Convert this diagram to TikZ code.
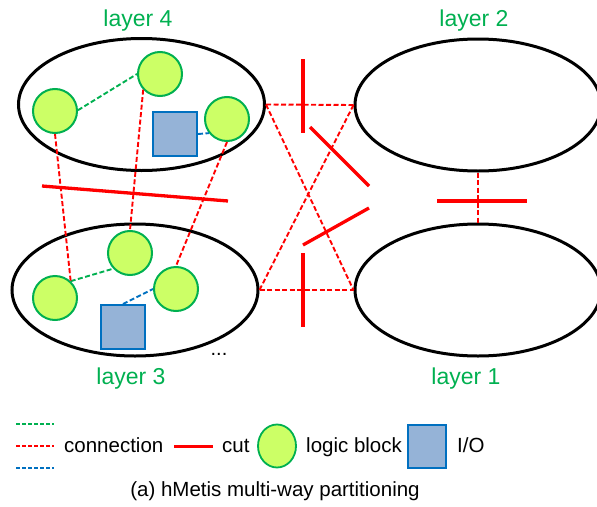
\documentclass[tikz,border=0pt]{standalone}
\usepackage{fontspec}
\setmainfont{Liberation Sans}
\usetikzlibrary{shapes.geometric}
\definecolor{lgreen}{HTML}{00B050}
\definecolor{lfill}{HTML}{CCFF66}
\definecolor{ioblue}{HTML}{0070C0}
\definecolor{iofill}{HTML}{95B3D7}
\definecolor{cutred}{HTML}{FF0000}
\begin{document}
\begin{tikzpicture}[x=1pt,y=-1pt,
  layer/.style={ellipse, draw=black, line width=3pt, minimum width=246pt, minimum height=132pt, inner sep=0pt},
  logic/.style={circle, draw=lgreen, fill=lfill, line width=2pt, minimum size=44pt, inner sep=0pt},
  iopad/.style={rectangle, draw=ioblue, fill=iofill, line width=2pt, minimum size=44pt, inner sep=0pt},
  conn/.style={line width=1.9pt, dash pattern=on 5pt off 2.5pt},
  rconn/.style={conn, draw=cutred},
  gconn/.style={conn, draw=lgreen},
  bconn/.style={conn, draw=ioblue},
  cutline/.style={draw=cutred, line width=3.3pt},
  lbl/.style={text=lgreen, font=\fontsize{23}{27}\selectfont, inner sep=0pt, anchor=base},
  legtext/.style={font=\fontsize{20.5}{24}\selectfont, inner sep=0pt, anchor=base west}
]
\useasboundingbox (0,0) rectangle (597,506);

% partitions (layers)
\node[layer] (L4) at (141.5,104.5) {};
\node[layer] (L3) at (135,290) {};
\node[layer] (L2) at (478,105) {};
\node[layer] (L1) at (478,290) {};

\node[lbl] (t4) at (138,26) {layer 4};
\node[lbl] (t2) at (474,26) {layer 2};
\node[lbl] (t3) at (131,384) {layer 3};
\node[lbl] (t1) at (466,384) {layer 1};

% blocks in layer 4
\node[logic] (C1) at (55,111) {};
\node[logic] (C2) at (160,74) {};
\node[logic] (C3) at (227,119) {};
\node[iopad] (S4) at (175,134) {};

% blocks in layer 3
\node[logic] (C4) at (55,298) {};
\node[logic] (C5) at (130,253) {};
\node[logic] (C6) at (176,289) {};
\node[iopad] (S3) at (123,327) {};
\node[font=\fontsize{20}{24}\selectfont, inner sep=0pt, anchor=base] (dots) at (219,355) {...};

% nets inside and between layers 4 and 3
\draw[gconn] (C1.2) -- (C2.west);
\draw[bconn] (S4.east) -- (C3.218);
\draw[gconn] (C4.47) -- (C5.223);
\draw[bconn] (S3.north) -- (C6.west);
\draw[rconn] (C1.south) -- (C4.47);
\draw[rconn] (C2.223) -- (C5.north);
\draw[rconn] (C3.south) -- (C6.north);

% nets between the partitions
\draw[rconn] (L4.east) -- (L2.west);
\draw[rconn] (L4.east) -- (L1.west);
\draw[rconn] (L3.east) -- (L2.west);
\draw[rconn] (L3.east) -- (L1.west);
\draw[rconn] (L2.south) -- (L1.north);

% cuts
\draw[cutline] (42,186) -- (228,201);
\draw[cutline] (303,59) -- (303,133);
\draw[cutline] (310,127) -- (369,186);
\draw[cutline] (369,208) -- (303,245);
\draw[cutline] (303,253) -- (303,327);
\draw[cutline] (437,201) -- (527,201);

% legend
\coordinate (g1) at (16,424); \coordinate (g2) at (54,424);
\coordinate (r1) at (16,446); \coordinate (r2) at (54,446);
\coordinate (b1) at (16,468); \coordinate (b2) at (54,468);
\draw[gconn, line width=1.6pt, dash pattern=on 4pt off 2pt] (g1) -- (g2);
\draw[rconn, line width=1.6pt, dash pattern=on 4pt off 2pt] (r1) -- (r2);
\draw[bconn, line width=1.6pt, dash pattern=on 4pt off 2pt] (b1) -- (b2);
\node[legtext] (lconn) at (64,452) {connection};
\coordinate (k1) at (174,446); \coordinate (k2) at (213,446);
\draw[cutline, line width=3pt] (k1) -- (k2);
\node[legtext] (lcut) at (222,452) {cut};
\node[ellipse, draw=lgreen, fill=lfill, line width=1.8pt, minimum width=38pt, minimum height=43pt, inner sep=0pt] (lcirc) at (277,446) {};
\node[legtext] (llogic) at (306,452) {logic block};
\node[rectangle, draw=ioblue, fill=iofill, line width=1.8pt, minimum width=38pt, minimum height=43pt, inner sep=0pt] (lsq) at (427,446.5) {};
\node[legtext] (lio) at (457,452) {I/O};
\node[font=\fontsize{20.5}{24}\selectfont, inner sep=0pt, anchor=base] (cap) at (275,496) {(a) hMetis multi-way partitioning};
\end{tikzpicture}
\end{document}
